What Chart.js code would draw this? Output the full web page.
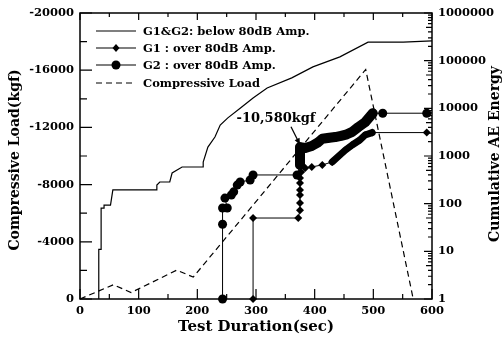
<!DOCTYPE html>
<html>
<head>
<meta charset="utf-8">
<script src="https://cdn.jsdelivr.net/npm/chart.js@4.4.1/dist/chart.umd.min.js"></script>
<style>
  body { margin: 0; background: #fff; }
  #wrap { width: 504px; height: 337px; position: relative; }
</style>
</head>
<body>
<div id="wrap"><canvas id="aeChart"></canvas></div>
<script>
// data
const timeBelow = [32, 32, 36, 36, 41, 41, 52, 56, 131, 131, 136, 153, 157, 174, 210, 210, 218, 230, 239, 252, 273, 295, 319, 361, 397, 443, 491, 551, 600];
const aeBelow   = [1, 11, 11, 81, 81, 93, 93, 194, 194, 246, 285, 285, 440, 588, 588, 748, 1540, 2500, 4450, 6300, 10000, 16500, 26700, 43500, 74000, 120000, 245000, 245000, 260000];

const timeG1 = [295, 295, 372, 375, 375, 375, 375, 375, 375, 377, 384, 395, 413, 430, 443, 452, 464, 477, 486, 498, 591];
const aeG1   = [1, 50, 50, 73, 103, 152, 194, 270, 345, 463, 560, 590, 650, 750, 1050, 1320, 1700, 2160, 2750, 3100, 3100];

const timeG2 = [243, 243, 243, 251, 247, 258, 262, 268, 273, 290, 295, 370, 375, 375, 375, 384, 395, 405, 413, 425, 435, 445, 455, 464, 474, 486, 499, 516, 591];
const aeG2   = [1, 37, 81, 81, 131, 152, 177, 245, 285, 313, 400, 400, 650, 1050, 1540, 1470, 1620, 1900, 2300, 2420, 2500, 2650, 2850, 3200, 4000, 5100, 7900, 7900, 7900];

const timeLoad = [0, 57, 87, 165, 193, 487, 568];
const loadKgf  = [0, -1000, -450, -2020, -1530, -16050, 0];

const xTicks = [0, 100, 200, 300, 400, 500, 600];
const loadTicks = [0, -4000, -8000, -12000, -16000, -20000];
const aeTicks = [1, 10, 100, 1000, 10000, 100000, 1000000];

const peakLabel = '-10,580kgf';
const peakTime = 375, peakLoad = -10580;

const legendLabels = ['G1&G2: below 80dB Amp.', 'G1 : over 80dB Amp.', 'G2 : over 80dB Amp.', 'Compressive Load'];

const zip = (xs, ys) => xs.map((x, i) => ({ x: x, y: ys[i] }));
const serif = '"DejaVu Serif", serif';
const tickFont = { family: serif, size: 11.5, weight: 'bold' };

// frame, inward ticks, legend, titles and the arrow note
const decorPlugin = {
    id: 'decor',
    afterDatasetsDraw(chart) {
        const { ctx, chartArea: a, scales } = chart;
        const x = scales.x, yL = scales.yL, yR = scales.yR;
        ctx.save();
        ctx.strokeStyle = '#000';
        ctx.fillStyle = '#000';
        ctx.lineWidth = 1.5;
        ctx.strokeRect(a.left, a.top, a.right - a.left, a.bottom - a.top);

        ctx.lineWidth = 1.2;
        ctx.beginPath();
        for (let v = 0; v <= 600; v += 50) {
            const px = x.getPixelForValue(v);
            const major = v % 100 === 0;
            ctx.moveTo(px, a.bottom); ctx.lineTo(px, a.bottom - (major ? 10 : 5));
            ctx.moveTo(px, a.top); ctx.lineTo(px, a.top + (major ? 7 : 4));
        }
        for (let v = 0; v >= -20000; v -= 2000) {
            const py = yL.getPixelForValue(v);
            const major = v % 4000 === 0;
            ctx.moveTo(a.left, py); ctx.lineTo(a.left + (major ? 12 : 7), py);
        }
        for (let d = 1; d <= 1000000; d *= 10) {
            let py = yR.getPixelForValue(d);
            ctx.moveTo(a.right, py); ctx.lineTo(a.right - 8, py);
            if (d === 1000000) break;
            for (let k = 2; k <= 9; k++) {
                py = yR.getPixelForValue(k * d);
                ctx.moveTo(a.right, py); ctx.lineTo(a.right - (k === 5 ? 6 : 4), py);
            }
        }
        ctx.stroke();

        // legend
        ctx.font = 'bold 11.5px ' + serif;
        ctx.textBaseline = 'middle';
        ctx.textAlign = 'left';
        const lx0 = a.left + 16, lx1 = a.left + 56, ltx = a.left + 63;
        const rows = [a.top + 18, a.top + 35, a.top + 52, a.top + 70];
        rows.forEach((ry, i) => {
            ctx.lineWidth = 1.2;
            ctx.setLineDash(i === 3 ? [6, 4] : []);
            ctx.beginPath(); ctx.moveTo(lx0, ry); ctx.lineTo(lx1, ry); ctx.stroke();
            ctx.setLineDash([]);
            const mx = (lx0 + lx1) / 2;
            if (i === 1) {
                ctx.beginPath();
                ctx.moveTo(mx, ry - 4); ctx.lineTo(mx + 3.5, ry); ctx.lineTo(mx, ry + 4); ctx.lineTo(mx - 3.5, ry);
                ctx.closePath(); ctx.fill();
            } else if (i === 2) {
                ctx.beginPath(); ctx.arc(mx, ry, 4.5, 0, Math.PI * 2); ctx.fill();
            }
            ctx.fillText(legendLabels[i], ltx, ry + 1);
        });

        // arrow note
        const tx = x.getPixelForValue(peakTime), ty = yL.getPixelForValue(peakLoad) - 3;
        ctx.font = 'bold 13px ' + serif;
        ctx.textAlign = 'center';
        ctx.fillText(peakLabel, tx - 24, ty - 26);
        ctx.lineWidth = 1.2;
        ctx.beginPath(); ctx.moveTo(tx - 9, ty - 18); ctx.lineTo(tx - 1, ty - 2); ctx.stroke();
        const ang = Math.atan2(16, 8);
        ctx.beginPath();
        ctx.moveTo(tx, ty);
        ctx.lineTo(tx - 7 * Math.cos(ang - 0.4), ty - 7 * Math.sin(ang - 0.4));
        ctx.lineTo(tx - 7 * Math.cos(ang + 0.4), ty - 7 * Math.sin(ang + 0.4));
        ctx.closePath(); ctx.fill();

        // axis titles
        const midY = (a.top + a.bottom) / 2;
        ctx.font = 'bold 15px ' + serif;
        ctx.fillText('Test Duration(sec)', (a.left + a.right) / 2, 327);
        ctx.font = 'bold 14px ' + serif;
        ctx.save(); ctx.translate(15, midY + 4); ctx.rotate(-Math.PI / 2);
        ctx.fillText('Compressive Load(kgf)', 0, 0); ctx.restore();
        ctx.save(); ctx.translate(495, midY - 2); ctx.rotate(-Math.PI / 2);
        ctx.fillText('Cumulative AE Energy', 0, 0); ctx.restore();
        ctx.restore();
    }
};

const g2Thick = ctx => (ctx.p0.parsed.x >= 374 && ctx.p1.parsed.x <= 500) ? 10 : 1;
const g1Thick = ctx => (ctx.p0.parsed.x >= 428 && ctx.p1.parsed.x <= 499) ? 7 : 1;

document.addEventListener('DOMContentLoaded', () => {
    new Chart(document.getElementById('aeChart'), {
        type: 'line',
        data: {
            datasets: [
                { label: legendLabels[0], data: zip(timeBelow, aeBelow), yAxisID: 'yR', borderColor: '#000', borderWidth: 1.2, pointRadius: 0 },
                { label: legendLabels[1], data: zip(timeG1, aeG1), yAxisID: 'yR', borderColor: '#000', backgroundColor: '#000', borderWidth: 1,
                  pointStyle: 'rectRot', pointRadius: 4, pointBorderWidth: 0, borderCapStyle: 'round', borderJoinStyle: 'round',
                  segment: { borderWidth: g1Thick } },
                { label: legendLabels[2], data: zip(timeG2, aeG2), yAxisID: 'yR', borderColor: '#000', backgroundColor: '#000', borderWidth: 1,
                  pointStyle: 'circle', pointRadius: 4.5, pointBorderWidth: 0, borderCapStyle: 'round', borderJoinStyle: 'round',
                  segment: { borderWidth: g2Thick } },
                { label: legendLabels[3], data: zip(timeLoad, loadKgf), yAxisID: 'yL', borderColor: '#000', borderWidth: 1.2, borderDash: [6, 4], pointRadius: 0 }
            ]
        },
        options: {
            animation: false,
            responsive: true,
            maintainAspectRatio: false,
            clip: false,
            layout: { padding: { top: 13, left: 0, right: 0, bottom: 0 } },
            plugins: { legend: { display: false }, tooltip: { enabled: false } },
            scales: {
                x: {
                    type: 'linear', min: 0, max: 600,
                    afterBuildTicks: s => { s.ticks = xTicks.map(v => ({ value: v })); },
                    afterFit: s => { s.height = 38; },
                    grid: { display: false, drawTicks: false },
                    border: { display: false },
                    ticks: { padding: 5, font: tickFont, color: '#000', maxRotation: 0, autoSkip: false, callback: v => String(v) }
                },
                yL: {
                    type: 'linear', position: 'left', min: -20000, max: 0, reverse: true,
                    afterBuildTicks: s => { s.ticks = loadTicks.map(v => ({ value: v })); },
                    afterFit: s => { s.width = 80; },
                    grid: { display: false, drawTicks: false },
                    border: { display: false },
                    ticks: { padding: 6, font: tickFont, color: '#000', autoSkip: false, callback: v => String(v) }
                },
                yR: {
                    type: 'logarithmic', position: 'right', min: 1, max: 1000000,
                    afterBuildTicks: s => { s.ticks = aeTicks.map(v => ({ value: v })); },
                    afterFit: s => { s.width = 72; },
                    grid: { display: false, drawTicks: false },
                    border: { display: false },
                    ticks: { padding: 6, font: tickFont, color: '#000', autoSkip: false, callback: v => String(v) }
                }
            }
        },
        plugins: [decorPlugin]
    });
});
</script>
</body>
</html>
